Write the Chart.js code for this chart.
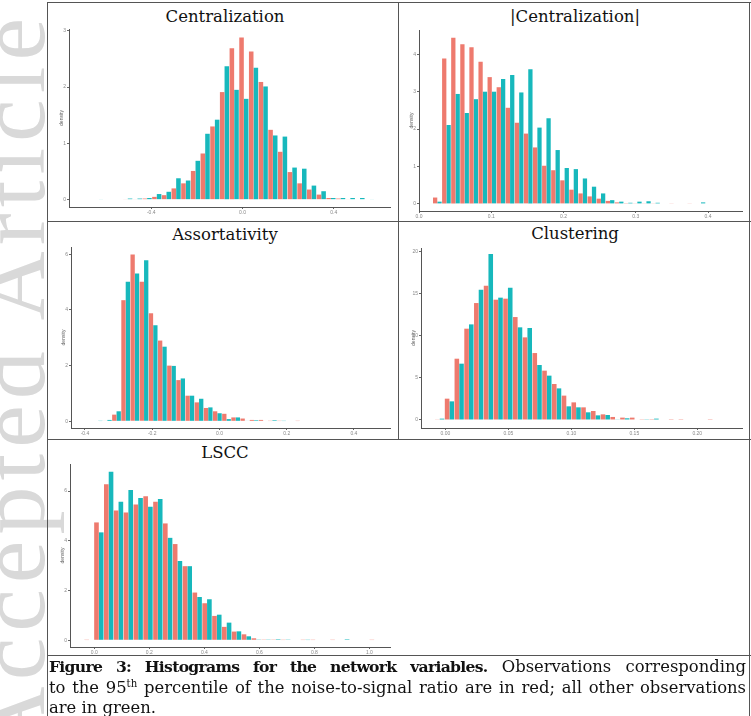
<!DOCTYPE html>
<html>
<head>
<meta charset="utf-8">
<script src="https://cdn.jsdelivr.net/npm/chart.js@4.4.0/dist/chart.umd.min.js"></script>
<style>
body{margin:0;width:751px;height:716px;overflow:hidden;background:#fff;position:relative;font-family:"DejaVu Serif",serif}
.wm{position:absolute;left:-38px;top:912px;width:900px;transform:rotate(-90deg);transform-origin:0 0;font:96px/100px "Liberation Serif",serif;color:#d9d9d9;text-align:right;white-space:nowrap;letter-spacing:6px}
.ln{position:absolute;background:#555}
.ttl{position:absolute;width:300px;text-align:center;font-size:16.5px;line-height:20px;color:#111}
canvas{position:absolute}
.cap{position:absolute;left:49px;width:697px;top:657px;font-size:16.4px;line-height:20.5px;color:#111}
.cap .j{text-align:justify;text-align-last:justify}
.cap b{font-size:15.6px;letter-spacing:-0.7px}
.cap sup{font-size:0.62em;line-height:0}
</style>
</head>
<body>
<div class="wm">Accepted Article</div>

<div class="ln" style="left:47px;top:2px;width:704px;height:1px"></div>
<div class="ln" style="left:47px;top:221px;width:704px;height:1px"></div>
<div class="ln" style="left:47px;top:439px;width:704px;height:1px"></div>
<div class="ln" style="left:47px;top:655px;width:704px;height:1px"></div>
<div class="ln" style="left:47px;top:2px;width:1px;height:714px"></div>
<div class="ln" style="left:749px;top:2px;width:1px;height:714px"></div>
<div class="ln" style="left:398px;top:2px;width:1px;height:437px"></div>

<div class="ttl" style="left:75px;top:7px">Centralization</div>
<div class="ttl" style="left:425px;top:7px">|Centralization|</div>
<div class="ttl" style="left:75px;top:225px">Assortativity</div>
<div class="ttl" style="left:425px;top:224px">Clustering</div>
<div class="ttl" style="left:75px;top:443px">LSCC</div>

<canvas id="c1"></canvas>
<canvas id="c2"></canvas>
<canvas id="c3"></canvas>
<canvas id="c4"></canvas>
<canvas id="c5"></canvas>

<div class="cap">
<div class="j"><b>Figure 3: Histograms for the network variables.</b> Observations corresponding</div>
<div class="j">to the 95<sup>th</sup> percentile of the noise-to-signal ratio are in red; all other observations</div>
<div>are in green.</div>
</div>

<script>
// histogram densities, one value per bin (red = 95th pct noise-to-signal, green = others)
const centRed = [0,0,0,0.01,0.01,0.02,0.05,0.08,0.20,0.29,0.51,0.82,1.30,1.91,2.69,2.88,2.63,2.09,1.24,0.85,0.49,0.29,0.18,0.09,0.03,0.02,0.01,0,0];
const centGreen = [0.01,0,0,0.02,0.02,0.03,0.10,0.14,0.38,0.34,0.69,1.17,1.42,2.37,1.95,1.79,2.34,2.01,1.14,1.12,0.57,0.55,0.25,0.15,0.03,0.03,0.03,0.03,0.01];
const centBinStart = -0.6304, centBinWidth = 0.04242;
const centXTicks = [-0.4, 0, 0.4];
const centXLabels = ['-0.4', '0.0', '0.4'];
const centYTicks = [0, 1, 2, 3];

const absRed = [0.17,3.89,4.44,4.27,4.19,3.80,3.39,3.12,2.57,2.17,1.88,1.51,1.02,0.90,0.63,0.38,0.28,0.20,0.14,0.08,0.04,0.02,0.01,0.01,0.01,0,0.01,0,0.01,0];
const absGreen = [0.06,2.11,2.94,2.43,2.80,3.00,3.00,3.34,3.45,2.98,3.60,2.04,2.29,1.44,0.96,0.93,0.68,0.46,0.28,0.10,0.06,0.03,0.06,0.07,0.03,0,0,0,0,0.04];
const absBinStart = 0.02535, absBinWidth = 0.01258;
const absXTicks = [0, 0.1, 0.2, 0.3, 0.4];
const absXLabels = ['0.0', '0.1', '0.2', '0.3', '0.4'];
const absYTicks = [0, 1, 2, 3, 4];

const assRed = [0,0.02,0.24,4.35,5.99,5.01,3.88,2.90,2.00,1.48,0.92,0.68,0.48,0.36,0.27,0.14,0.10,0.05,0.05,0.01,0.01,0,0.01];
const assGreen = [0.01,0.05,0.36,5.01,5.31,5.78,3.45,2.68,1.99,1.54,0.92,0.81,0.50,0.29,0.08,0.14,0.02,0.04,0,0.04,0.01,0,0];
const assBinStart = -0.3608, assBinWidth = 0.02727;
const assXTicks = [-0.4, -0.2, 0, 0.2, 0.4];
const assXLabels = ['-0.4', '-0.2', '0.0', '0.2', '0.4'];
const assYTicks = [0, 2, 4, 6];

const cluRed = [0.04,2.53,7.27,10.83,13.87,15.93,14.27,14.39,12.21,9.80,7.94,5.85,4.27,2.89,2.09,1.50,1.07,0.67,0.36,0.28,0.28,0.03,0.02,0,0.02,0.02,0,0,0.02];
const cluGreen = [0.16,2.21,6.68,11.34,15.45,19.68,14.51,15.69,10.99,10.91,6.52,5.26,3.75,1.62,1.50,0.91,0.55,0.59,0.04,0.20,0,0.03,0.16,0,0,0,0,0,0];
const cluBinStart = -0.0045, cluBinWidth = 0.007735;
const cluXTicks = [0, 0.05, 0.1, 0.15, 0.2];
const cluXLabels = ['0.00', '0.05', '0.10', '0.15', '0.20'];
const cluYTicks = [0, 5, 10, 15, 20];

const lsRed = [0.01,4.74,6.28,5.22,5.14,5.46,5.79,5.57,4.70,3.87,2.98,1.92,1.49,0.98,0.54,0.35,0.24,0.08,0.03,0.03,0.01,0,0.01,0.01,0,0.01,0,0,0,0.01];
const lsGreen = [0,4.34,6.78,5.57,6.04,5.72,5.37,5.68,4.12,3.19,2.98,1.74,1.65,1.03,0.71,0.36,0.16,0.03,0.03,0.04,0.03,0,0.01,0,0,0,0.04,0,0,0];
const lsBinStart = -0.0194, lsBinWidth = 0.03576;
const lsXTicks = [0, 0.2, 0.4, 0.6, 0.8, 1.0];
const lsXLabels = ['0.0', '0.2', '0.4', '0.6', '0.8', '1.0'];
const lsYTicks = [0, 2, 4, 6];

const RED = '#ee7a6e';
const GREEN = '#17b8bc';

// box = plot area in page pixels [left, top, right, bottom]
function drawPanel(id, box, red, green, binStart, binWidth, xMin, xMax, xTicks, xLabels, yMin, yMax, yTicks) {
  const cv = document.getElementById(id);
  const w = box[2] - box[0] + 14, h = box[3] - box[1] + 16;
  cv.width = w; cv.height = h;
  cv.style.left = (box[0] - 10) + 'px';
  cv.style.top = (box[1] - 4) + 'px';
  cv.style.width = w + 'px';
  cv.style.height = h + 'px';
  const pts = vals => vals.map((v, i) => ({x: binStart + i * binWidth, y: v}));
  new Chart(cv.getContext('2d'), {
    type: 'bar',
    data: {
      datasets: [
        {data: pts(red), backgroundColor: RED, borderWidth: 0},
        {data: pts(green), backgroundColor: GREEN, borderWidth: 0}
      ]
    },
    options: {
      responsive: false,
      animation: false,
      layout: {padding: {top: 4, right: 4, left: 0, bottom: 0}},
      plugins: {legend: {display: false}, tooltip: {enabled: false}},
      datasets: {bar: {categoryPercentage: 0.96, barPercentage: 0.98}},
      scales: {
        x: {
          type: 'linear', offset: false, min: xMin, max: xMax,
          afterBuildTicks: s => { s.ticks = xTicks.map(v => ({value: v})); },
          afterFit: s => { s.height = 12; },
          grid: {display: true, drawOnChartArea: false, offset: false, tickLength: 2, color: '#666'},
          border: {display: true, color: '#555', width: 1},
          ticks: {font: {size: 5}, color: '#888', padding: 1, maxRotation: 0, autoSkip: false,
                  callback: (v, i) => xLabels[i]}
        },
        y: {
          min: yMin, max: yMax,
          afterBuildTicks: s => { s.ticks = yTicks.map(v => ({value: v})); },
          afterFit: s => { s.width = 10; },
          title: {display: true, text: 'density', font: {size: 5}, color: '#666', padding: 0},
          grid: {display: true, drawOnChartArea: false, tickLength: 2, color: '#666'},
          border: {display: true, color: '#555', width: 1},
          ticks: {font: {size: 5}, color: '#888', padding: 1, autoSkip: false}
        }
      }
    }
  });
}

drawPanel('c1', [69, 29, 390, 207], centRed, centGreen, centBinStart, centBinWidth, -0.7606, 0.6465, centXTicks, centXLabels, -0.13, 3.03, centYTicks);
drawPanel('c2', [419, 30, 742, 211], absRed, absGreen, absBinStart, absBinWidth, 0, 0.447, absXTicks, absXLabels, -0.19, 4.65, absYTicks);
drawPanel('c3', [71, 247, 390, 428], assRed, assGreen, assBinStart, assBinWidth, -0.4416, 0.5073, assXTicks, assXLabels, -0.24, 6.26, assYTicks);
drawPanel('c4', [421, 248, 742, 428], cluRed, cluGreen, cluBinStart, cluBinWidth, -0.01934, 0.2355, cluXTicks, cluXLabels, -0.95, 20.4, cluYTicks);
drawPanel('c5', [70, 464, 390, 647], lsRed, lsGreen, lsBinStart, lsBinWidth, -0.0885, 1.075, lsXTicks, lsXLabels, -0.27, 7.09, lsYTicks);
</script>
</body>
</html>
